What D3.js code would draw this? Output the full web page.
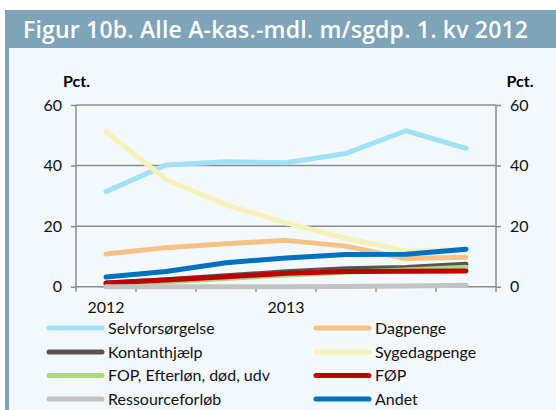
<!DOCTYPE html>
<html>
<head>
<meta charset="utf-8">
<script src="https://cdn.jsdelivr.net/npm/d3@7"></script>
<style>
  body { margin: 0; background: #ffffff; }
  svg { display: block; font-family: Lato, "Open Sans", sans-serif; }
</style>
</head>
<body>
<svg id="chart"></svg>
<script>
// Data (pct.)
const categories = ['2012 K2', '2012 K3', '2012 K4', '2013 K1', '2013 K2', '2013 K3', '2013 K4'];
const yearLabels = [{ index: 0, text: '2012' }, { index: 3, text: '2013' }];
const yTicks = [0, 20, 40, 60];

const seriesNames = ['Selvforsørgelse', 'Dagpenge', 'Kontanthjælp', 'Sygedagpenge',
    'FOP, Efterløn, død, udv', 'FØP', 'Ressourceforløb', 'Andet'];
const seriesColors = ['#9fe2f7', '#f4c283', '#555555', '#f5f1b8',
    '#a9d97e', '#c00000', '#c3c3c3', '#0070c0'];

const selvforsorgelse = [31.4, 40.2, 41.3, 40.9, 44.0, 51.5, 45.7];
const dagpenge = [10.8, 12.9, 14.2, 15.3, 13.4, 9.3, 9.7];
const kontanthjaelp = [1.1, 2.3, 3.6, 4.9, 5.9, 6.3, 7.4];
const sygedagpenge = [51.2, 35.4, 27.0, 21.1, 16.0, 11.8, 12.3];
const fop = [0.3, 1.6, 2.7, 3.9, 4.8, 5.5, 6.4];
const foep = [1.2, 2.2, 3.3, 4.4, 5.0, 5.1, 5.2];
const ressourceforloeb = [0.0, 0.0, 0.0, 0.0, 0.1, 0.2, 0.5];
const andet = [3.2, 5.0, 7.9, 9.5, 10.6, 10.7, 12.4];

const seriesValues = [selvforsorgelse, dagpenge, kontanthjaelp, sygedagpenge,
    fop, foep, ressourceforloeb, andet];

const width = 556;
const height = 410;
const plot = { left: 76, right: 496, top: 105, bottom: 286.7 };

const svg = d3.select('#chart')
    .attr('width', width)
    .attr('height', height);

// panel, left strip and title bar
svg.append('rect')
    .attr('x', 5).attr('y', 10)
    .attr('width', width - 5).attr('height', height - 10)
    .attr('fill', '#f3f8fc');
svg.append('rect')
    .attr('x', 5).attr('y', 10)
    .attr('width', 4).attr('height', height - 10)
    .attr('fill', '#7fa3b8');
svg.append('rect')
    .attr('x', 5).attr('y', 10)
    .attr('width', width - 5).attr('height', 38)
    .attr('fill', '#7fa3b8');
svg.append('text')
    .attr('x', 23).attr('y', 38)
    .attr('fill', '#ffffff')
    .attr('textLength', 505)
    .attr('lengthAdjust', 'spacing')
    .style('font-family', '"Open Sans", Lato, sans-serif')
    .style('font-size', '23px')
    .style('font-weight', '600')
    .text('Figur 10b. Alle A-kas.-mdl. m/sgdp. 1. kv 2012');

const x = d3.scaleBand()
    .domain(categories)
    .range([plot.left, plot.right])
    .padding(0);

const y = d3.scaleLinear()
    .domain([0, 60])
    .range([plot.bottom, plot.top]);

const axisColor = '#8c8c8c';

// horizontal gridlines
svg.append('g')
    .selectAll('line')
    .data(yTicks.filter(d => d > 0))
    .enter().append('line')
    .attr('x1', plot.left).attr('x2', plot.right)
    .attr('y1', d => y(d)).attr('y2', d => y(d))
    .attr('stroke', axisColor)
    .attr('stroke-width', 1.5);

// left and right value axes
const leftAxis = svg.append('g')
    .attr('transform', `translate(${plot.left},0)`)
    .call(d3.axisLeft(y).tickValues(yTicks).tickSize(5).tickPadding(9));
const rightAxis = svg.append('g')
    .attr('transform', `translate(${plot.right},0)`)
    .call(d3.axisRight(y).tickValues(yTicks).tickSize(5).tickPadding(9));

[leftAxis, rightAxis].forEach(g => {
    g.select('.domain').attr('stroke', axisColor).attr('stroke-width', 1.5)
        .attr('d', `M0,${plot.top}V${plot.bottom}`);
    g.selectAll('.tick line').attr('stroke', axisColor).attr('stroke-width', 1.5);
    g.selectAll('.tick text')
        .attr('fill', '#111111')
        .style('font-size', '16px')
        .style('font-family', 'Lato, sans-serif');
});

// category axis with ticks between the quarters
const xEdges = categories.map(c => x(c)).concat([plot.right]);
svg.append('line')
    .attr('x1', plot.left).attr('x2', plot.right)
    .attr('y1', plot.bottom).attr('y2', plot.bottom)
    .attr('stroke', axisColor)
    .attr('stroke-width', 1.5);
svg.append('g')
    .selectAll('line')
    .data(xEdges)
    .enter().append('line')
    .attr('x1', d => d).attr('x2', d => d)
    .attr('y1', plot.bottom).attr('y2', plot.bottom + 5)
    .attr('stroke', axisColor)
    .attr('stroke-width', 1.5);
svg.append('g')
    .selectAll('text')
    .data(yearLabels)
    .enter().append('text')
    .attr('x', d => x(categories[d.index]) + x.bandwidth() / 2)
    .attr('y', plot.bottom + 26)
    .attr('text-anchor', 'middle')
    .attr('fill', '#111111')
    .style('font-size', '16px')
    .text(d => d.text);

// axis unit labels
svg.append('text')
    .attr('x', plot.left + 0.5).attr('y', 87)
    .attr('text-anchor', 'middle')
    .style('font-size', '16px').style('font-weight', 'bold')
    .text('Pct.');
svg.append('text')
    .attr('x', plot.right + 24).attr('y', 87)
    .attr('text-anchor', 'middle')
    .style('font-size', '16px').style('font-weight', 'bold')
    .text('Pct.');

// series lines
const line = d3.line()
    .x((d, i) => x(categories[i]) + x.bandwidth() / 2)
    .y(d => y(d));

svg.append('g')
    .selectAll('path')
    .data(seriesValues)
    .enter().append('path')
    .attr('d', d => line(d))
    .attr('fill', 'none')
    .attr('stroke', (d, i) => seriesColors[i])
    .attr('stroke-width', 5)
    .attr('stroke-linecap', 'round')
    .attr('stroke-linejoin', 'round');

// legend, two columns
const legendCols = [49, 316];
const legendRows = [328, 352, 375.5, 399];

const legendItems = svg.append('g')
    .selectAll('g')
    .data(seriesNames)
    .enter().append('g')
    .attr('transform', (d, i) => `translate(${legendCols[i % 2]},${legendRows[Math.floor(i / 2)]})`);

legendItems.append('line')
    .attr('x1', 0).attr('x2', 53)
    .attr('y1', 0).attr('y2', 0)
    .attr('stroke', (d, i) => seriesColors[i])
    .attr('stroke-width', 5)
    .attr('stroke-linecap', 'round');

legendItems.append('text')
    .attr('x', 59)
    .attr('y', 0)
    .attr('dy', '0.36em')
    .attr('fill', '#111111')
    .style('font-size', '16px')
    .text(d => d);
</script>
</body>
</html>
